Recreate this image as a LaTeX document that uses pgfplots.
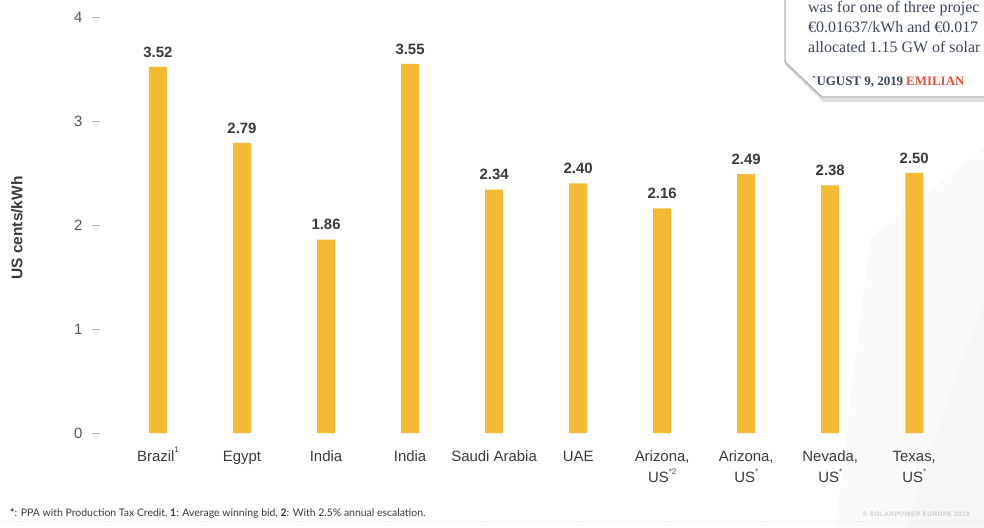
\documentclass[border=0pt]{standalone}
\usepackage{fontspec}
\setmainfont{Liberation Sans}
\newfontfamily\seriffont{Liberation Serif}
\newfontfamily\latofont{Lato}
\usepackage{pgfplots}
\pgfplotsset{compat=1.18}
\definecolor{barcol}{HTML}{F4B935}
\definecolor{txt}{HTML}{3A3A3A}
\definecolor{ticktxt}{HTML}{555555}
\definecolor{slate}{HTML}{3B4656}
\definecolor{redname}{HTML}{E0533D}
\newcommand{\smallsup}[1]{\raisebox{1.1ex}{\fontsize{8}{8}\selectfont #1}}
\newcommand{\twoline}[2]{\begin{tabular}[t]{@{}c@{}}#1\\#2\end{tabular}}
\begin{document}
\begin{tikzpicture}
\useasboundingbox (0,0) rectangle (984bp,528bp);
\begin{scope}[x=1bp,y=1bp]
\fill[white] (0,0) rectangle (984,528);
\fill[gray!4] (835,0) -- (870,290) -- (984,380) -- (984,0) -- cycle;
\fill[gray!7] (905,0) -- (984,230) -- (984,0) -- cycle;
\draw[gray!20, dotted, line width=0.6bp] (0,7) -- (984,7);
\node[anchor=base east, inner sep=0, font=\fontsize{6.5}{8}\selectfont\bfseries, color=gray!40] at (970,12) {\addfontfeatures{LetterSpace=6}\textcopyright{} SOLARPOWER EUROPE 2019};
\node[anchor=base west, inner sep=0, font=\latofont\fontsize{10.5}{12}\selectfont, color=txt] at (10,12) {\textbf{*}: PPA with Production Tax Credit, \textbf{1}: Average winning bid, \textbf{2}: With 2.5\% annual escalation.};
\end{scope}
\begin{axis}[
  at={(100bp,95bp)}, anchor=south west,
  scale only axis, width=884bp, height=416bp,
  xmin=-0.69, xmax=9.83, ymin=0, ymax=4,
  axis lines=left, axis line style={draw=none},
  tick align=outside, major tick length=8bp,
  xtick=data,
  xticklabels={Brazil\smallsup{1}, Egypt, India, India, Saudi Arabia, UAE, {\twoline{Arizona,}{US\smallsup{*2}}}, {\twoline{Arizona,}{US\smallsup{*}}}, {\twoline{Nevada,}{US\smallsup{*}}}, {\twoline{Texas,}{US\smallsup{*}}}},
  xtick style={draw=none},
  xticklabel style={font=\fontsize{15}{22}\selectfont, color=txt, anchor=base, yshift=-20bp},
  ytick={0,1,2,3,4},
  ytick style={draw=gray!60, line width=0.8bp},
  yticklabel style={font=\fontsize{15}{18}\selectfont, color=ticktxt, xshift=-6bp},
  /pgf/number format/assume math mode=true,
  ylabel={US cents/kWh},
  ylabel style={at={(axis description cs:-0.094,0.493)}, anchor=center, font=\bfseries\fontsize{15.5}{18}\selectfont, color=txt},
  ybar, bar width=18bp,
  nodes near coords,
  nodes near coords style={font=\bfseries\fontsize{15}{18}\selectfont, color=txt, anchor=south, yshift=6bp, /pgf/number format/.cd, fixed, fixed zerofill, precision=2, assume math mode=true},
  clip=false,
]
\addplot[fill=barcol, draw=none] coordinates {
(0,3.52) (1,2.79) (2,1.86) (3,3.55) (4,2.34) (5,2.40) (6,2.16) (7,2.49) (8,2.38) (9,2.50)};
\end{axis}
\begin{scope}[x=1bp,y=1bp]
\draw[gray!25, line width=4bp] (787,535) -- (787,464) -- (824,428) -- (990,428);
\fill[white] (785,535) -- (785,466) -- (822,431) -- (990,431) -- (990,535) -- cycle;
\draw[gray!60, line width=1.3bp] (785,535) -- (785,466) -- (822,431) -- (990,431);
\node[anchor=base west, inner sep=0, font=\seriffont\fontsize{16}{20}\selectfont, color=slate] at (808,515) {was for one of three projec};
\node[anchor=base west, inner sep=0, font=\seriffont\fontsize{16}{20}\selectfont, color=slate] at (808,495) {€0.01637/kWh and €0.017};
\node[anchor=base west, inner sep=0, font=\seriffont\fontsize{16}{20}\selectfont, color=slate] at (808,475) {allocated 1.15 GW of solar};
\node[anchor=base west, inner sep=0, font=\seriffont\bfseries\fontsize{13}{15}\selectfont, color=slate] at (812,442) {`UGUST 9, 2019};
\node[anchor=base west, inner sep=0, font=\seriffont\bfseries\fontsize{13}{15}\selectfont, color=redname] at (906,442) {EMILIAN};
\end{scope}
\end{tikzpicture}
\end{document}
